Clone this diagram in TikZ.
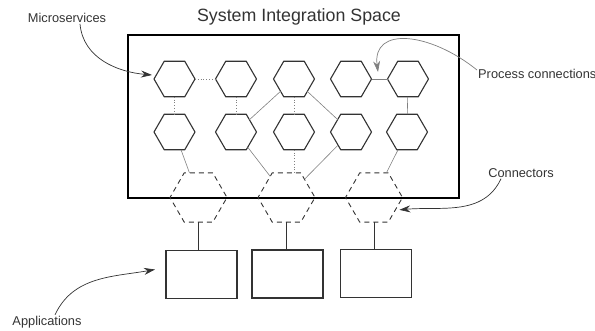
\documentclass[tikz,border=0pt]{standalone}
\usepackage{fontspec}
\setmainfont{Liberation Sans}
\usetikzlibrary{shapes.geometric,arrows.meta}
\definecolor{ink}{HTML}{333333}
\begin{document}
\begin{tikzpicture}[x=1pt,y=1pt,
  service/.style={regular polygon,regular polygon sides=6,draw=ink,
    line width=1.1pt,inner sep=0,outer sep=0,minimum size=41pt},
  connector/.style={regular polygon,regular polygon sides=6,draw=ink,
    line width=0.9pt,dash pattern=on 5pt off 4pt,inner sep=0,outer sep=0,
    minimum size=57pt},
  app/.style={rectangle,draw=ink,line width=1.1pt,inner sep=0,outer sep=0,
    minimum width=71pt,minimum height=48pt},
  link/.style={draw=gray,line width=0.6pt},
  dotlink/.style={draw=gray,line width=0.8pt,dotted},
  note/.style={draw=ink,line width=0.7pt,-{Stealth[length=11pt,width=7pt]}},
  label/.style={text=ink,font=\fontsize{12.8}{14}\selectfont,inner sep=1pt}]
  \useasboundingbox (0,0) rectangle (595,330);
  % integration space
  \node[rectangle,draw=black,line width=1.2pt,minimum width=331pt,
    minimum height=163pt,outer sep=0] (space) at (293.5,213.5) {};
  \node[text=ink,font=\fontsize{17.8}{20}\selectfont] (title) at (299,313)
    {System Integration Space};
  % microservices
  \node[service] (h11) at (174.5,251) {};
  \node[service] (h12) at (236,251) {};
  \node[service] (h13) at (294,251) {};
  \node[service] (h14) at (351,251) {};
  \node[service] (h15) at (408,251) {};
  \node[service] (h21) at (174.5,198) {};
  \node[service] (h22) at (236,198) {};
  \node[service] (h23) at (294,198) {};
  \node[service] (h24) at (351,198) {};
  \node[service] (h25) at (407,198) {};
  % connectors
  \node[connector] (c1) at (198.5,132.5) {};
  \node[connector] (c2) at (286.5,132.5) {};
  \node[connector] (c3) at (374,132.5) {};
  % applications
  \node[app] (a1) at (201.5,55.5) {};
  \node[app] (a2) at (287.5,56) {};
  \node[app] (a3) at (376,56.5) {};
  % process connections
  \draw[dotlink] (h11) -- (h12);
  \draw[dotlink] (h11) -- (h21);
  \draw[dotlink] (h12) -- (h22);
  \draw[dotlink] (h13) -- (h23);
  \draw[link] (h13) -- (h22);
  \draw[link] (h13) -- (h24);
  \draw[link] (h14) -- (h15);
  \draw[link] (h15) -- (h25);
  \draw[link] (h21) -- (c1);
  \draw[link] (h22) -- (c2);
  \draw[dotlink] (h23.south) -- (h23.south |- c2.north);
  \draw[link] (h24) -- (c2);
  \draw[link] (h25) -- (c3);
  \draw[ink,line width=0.8pt] (c1.south) -- (c1.south |- a1.north);
  \draw[ink,line width=0.8pt] (c2.south) -- (c2.south |- a2.north);
  \draw[ink,line width=0.8pt] (c3.south) -- (c3.south |- a3.north);
  % notes
  \node[label] (lmicro) at (67,312) {Microservices};
  \node[label,anchor=west] (lproc) at (477,256) {Process connections};
  \node[label] (lconn) at (521,157) {Connectors};
  \node[label] (lapps) at (47,8) {Applications};
  \coordinate (ptip) at (378,258);
  \draw[note] (lmicro.south -| 80,0) to[out=-85,in=175] ([xshift=-2pt,yshift=4pt]h11.west);
  \draw[note,draw=gray] ([yshift=4pt]lproc.west) .. controls (430,298) and (372,304) .. (ptip);
  \draw[note] ([xshift=-20pt]lconn.south) to[out=-115,in=5] ([xshift=4pt]c3.-30);
  \draw[note] ([xshift=8pt]lapps.north) to[out=65,in=190] ([xshift=-11pt,yshift=5pt]a1.west);
\end{tikzpicture}
\end{document}
